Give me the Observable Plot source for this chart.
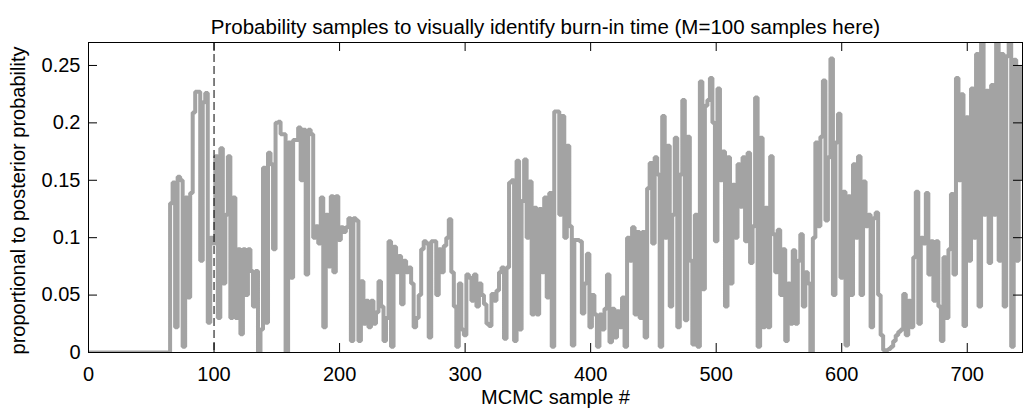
<!DOCTYPE html>
<html><head><meta charset="utf-8">
<script src="https://cdn.jsdelivr.net/npm/d3@7"></script>
<script src="https://cdn.jsdelivr.net/npm/@observablehq/plot@0.6"></script>
<style>html,body{margin:0;padding:0;background:#fff}svg{display:block}</style>
</head><body><div id="chart"></div>
<script>
const title = "Probability samples to visually identify burn-in time (M=100 samples here)";
const xLabel = "MCMC sample #";
const yLabel = "proportional to posterior probability";
const xTicks = [0, 100, 200, 300, 400, 500, 600, 700];
const yTicks = [0, 0.05, 0.1, 0.15, 0.2, 0.25];
const yTickLabels = ["0", "0.05", "0.1", "0.15", "0.2", "0.25"];
const burnIn = 100;
const xMax = 744;
const yMax = 0.27;
// trace: value 0 from sample 0 up to firstSample, then one value every `stride` samples
const firstSample = 64;
const stride = 2;
const prob = [
0, 0.13, 0.148, 0.022, 0.153, 0.15, 0.005, 0.135, 0.048, 0.139,
0.209, 0.227, 0.227, 0.08, 0.218, 0.226, 0.026, 0.1, 0.095, 0.171,
0.03, 0.178, 0.06, 0.12, 0.171, 0.03, 0.135, 0.03, 0.09, 0.016,
0.09, 0.05, 0.09, 0.071, 0.04, 0.071, 0, 0.02, 0.161, 0.026,
0.174, 0.164, 0.09, 0.2, 0.201, 0.19, 0.19, 0.0, 0.183, 0.065,
0.185, 0.185, 0.196, 0.15, 0.194, 0.068, 0.194, 0.19, 0.1, 0.11,
0.095, 0.135, 0.022, 0.12, 0.075, 0.136, 0.07, 0.136, 0.098, 0.109,
0.105, 0.109, 0.117, 0.01, 0.117, 0.115, 0.01, 0.062, 0.025, 0.045,
0.022, 0.045, 0.025, 0.035, 0.062, 0.04, 0.01, 0.03, 0.097, 0.005,
0.092, 0.07, 0.084, 0.042, 0.08, 0.07, 0.074, 0.06, 0.022, 0.03,
0.05, 0.09, 0.097, 0.095, 0.013, 0.097, 0.097, 0.05, 0.09, 0.07,
0.093, 0.1, 0.116, 0.07, 0.04, 0.005, 0.06, 0.02, 0.015, 0.068,
0.065, 0.045, 0.068, 0.04, 0.06, 0.05, 0.042, 0.025, 0.023, 0.051,
0.045, 0.054, 0.07, 0.074, 0.012, 0.074, 0.148, 0.15, 0.01, 0.167,
0.02, 0.132, 0.168, 0.1, 0.149, 0.033, 0.126, 0.033, 0.125, 0.07,
0.135, 0.048, 0.139, 0.005, 0.21, 0.21, 0.12, 0.206, 0.1, 0.18,
0.11, 0.006, 0.098, 0.098, 0.097, 0.034, 0.06, 0.086, 0.022, 0.05,
0.033, 0.005, 0.033, 0.02, 0.038, 0.068, 0.009, 0.038, 0.013, 0.036,
0.022, 0.048, 0.005, 0.1, 0.08, 0.109, 0.033, 0.105, 0.03, 0.105,
0.013, 0.143, 0.165, 0.095, 0.17, 0.155, 0.005, 0.206, 0.1, 0.18,
0.04, 0.12, 0.187, 0.022, 0.155, 0.22, 0.028, 0.188, 0.08, 0.007,
0.12, 0.005, 0.236, 0.055, 0.215, 0.22, 0.239, 0.2, 0.097, 0.23,
0.15, 0.175, 0.04, 0.17, 0.06, 0.146, 0.1, 0.164, 0.127, 0.17,
0.097, 0.174, 0.078, 0.11, 0.222, 0.005, 0.187, 0.022, 0.126, 0.022,
0.171, 0.103, 0.07, 0.107, 0.05, 0.09, 0.01, 0.06, 0.025, 0.089,
0.025, 0.08, 0.103, 0.04, 0.07, 0.06, 0.0, 0.1, 0.183, 0.11,
0.188, 0.237, 0.115, 0.17, 0.256, 0.05, 0.183, 0.208, 0.065, 0.14,
0.006, 0.136, 0.05, 0.164, 0.1, 0.171, 0.05, 0.149, 0.11, 0.12,
0.022, 0.117, 0.122, 0.05, 0.015, 0.002, 0.002, 0.003, 0.005, 0.01,
0.015, 0.018, 0.02, 0.051, 0.015, 0.045, 0.022, 0.083, 0.14, 0.025,
0.1, 0.095, 0.139, 0.068, 0.097, 0.045, 0.097, 0.04, 0.01, 0.083,
0.03, 0.09, 0.138, 0.068, 0.239, 0.15, 0.225, 0.023, 0.205, 0.08,
0.23, 0.1, 0.26, 0.04, 0.275, 0.12, 0.228, 0.078, 0.233, 0.12,
0.275, 0.08, 0.26, 0.04, 0.258, 0.27, 0.005, 0.255, 0.08, 0.248,
0.152
];

const trace = [{s: 0, p: 0}, ...prob.map((p, i) => ({s: firstSample + i * stride, p}))];

const W = 1024, H = 418;
const mL = 88, mR = 2, mT = 42, mB = 66;
const frameW = W - mL - mR, frameH = H - mT - mB;
const tickLen = 9;

const chart = Plot.plot({
  width: W, height: H,
  marginLeft: mL, marginRight: mR, marginTop: mT, marginBottom: mB,
  style: {fontFamily: "'Liberation Sans', Arial, Helvetica, sans-serif", fontSize: "20px", color: "#000", background: "#fff"},
  x: {domain: [0, xMax]},
  y: {domain: [0, yMax]},
  marks: [
    Plot.line(trace, {x: "s", y: "p", curve: "step", stroke: "#a3a3a3", strokeWidth: 4, strokeLinejoin: "miter", clip: true}),
    Plot.ruleX([burnIn], {x: d => d, stroke: "#000", strokeWidth: 1, strokeDasharray: "8,4"}),
    Plot.frame({stroke: "#000", strokeWidth: 1}),
    Plot.ruleX(xTicks, {x: d => d, insetTop: frameH - tickLen, stroke: "#000"}),
    Plot.ruleX(xTicks, {x: d => d, insetBottom: frameH - tickLen, stroke: "#000"}),
    Plot.ruleY(yTicks, {y: d => d, insetRight: frameW - tickLen, stroke: "#000"}),
    Plot.ruleY(yTicks, {y: d => d, insetLeft: frameW - tickLen, stroke: "#000"}),
    Plot.axisX({ticks: xTicks, tickSize: 0, tickPadding: 14, label: null, tickFormat: d => String(d), fontSize: 20}),
    Plot.axisY({ticks: yTicks, tickSize: 0, tickPadding: 8, label: null, tickFormat: d => yTickLabels[yTicks.indexOf(d)], fontSize: 20}),
    Plot.text([title], {text: d => d, frameAnchor: "top", dy: -23, dx: -10, fontSize: 20.5, fill: "#000"}),
    Plot.text([xLabel], {text: d => d, frameAnchor: "bottom", dy: 51, fontSize: 20, fill: "#000"}),
    Plot.text([yLabel], {text: d => d, frameAnchor: "left", textAnchor: "middle", dx: -70, dy: 3, rotate: -90, fontSize: 20, fill: "#000"})
  ]
});
document.getElementById("chart").appendChild(chart);
</script>
</body></html>
